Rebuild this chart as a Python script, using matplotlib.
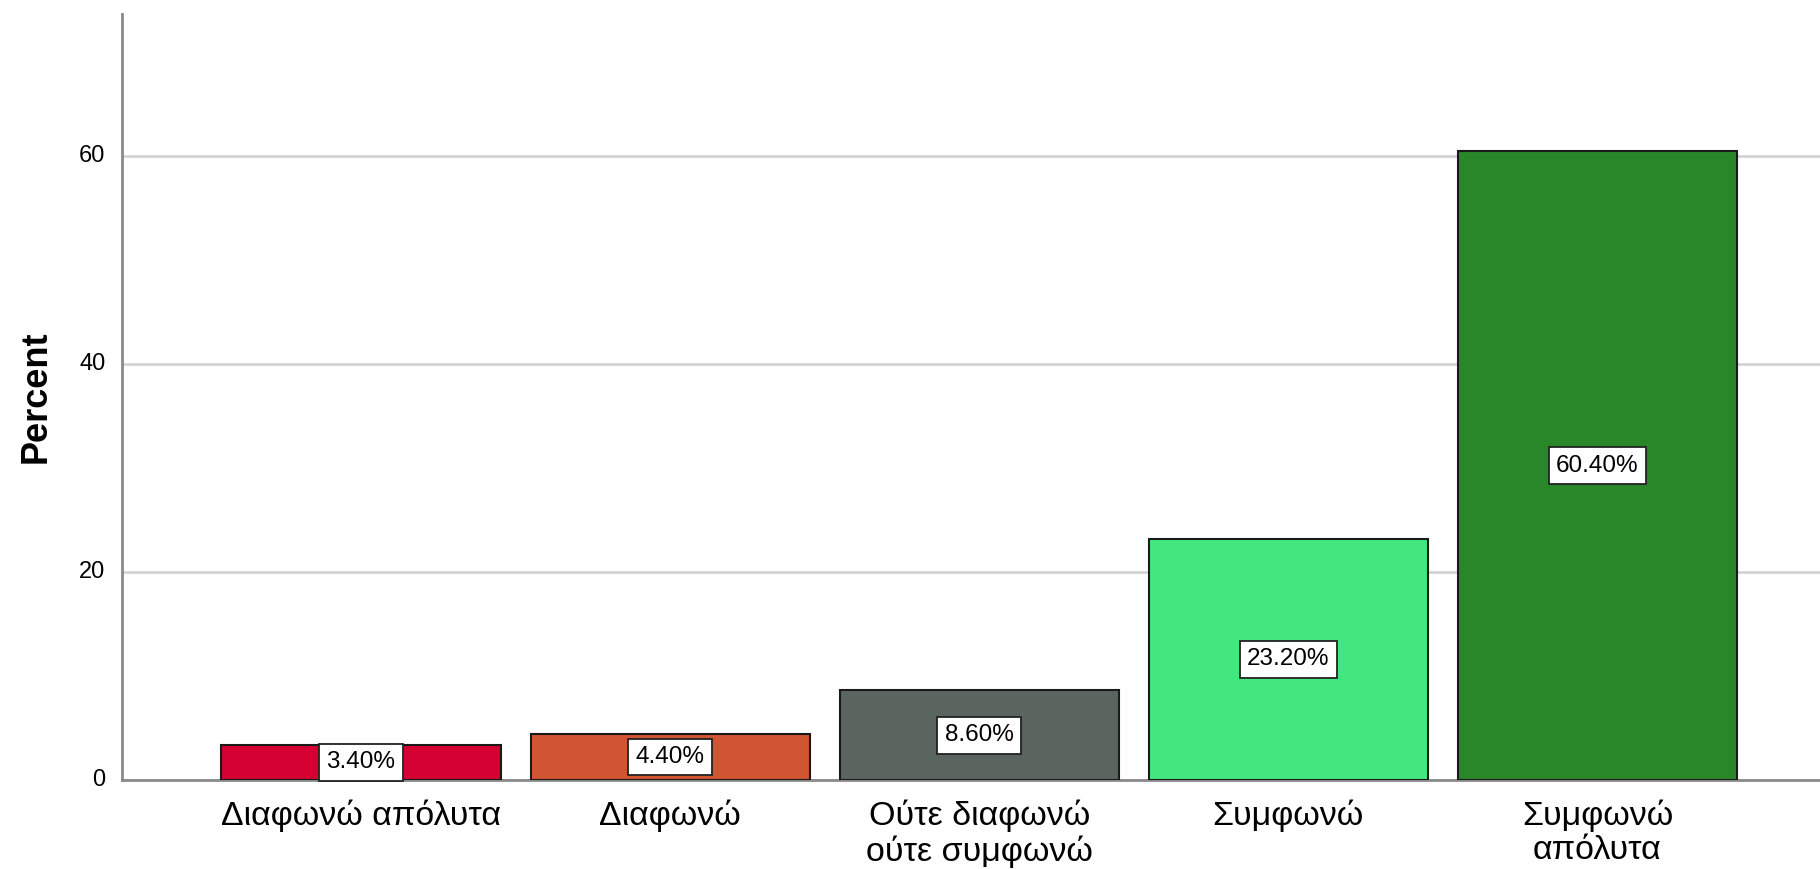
import numpy as np
import matplotlib
matplotlib.use("Agg")
import matplotlib.pyplot as plt

categories = ["Διαφωνώ απόλυτα", "Διαφωνώ", "Ούτε διαφωνώ\nούτε συμφωνώ",
              "Συμφωνώ", "Συμφωνώ\nαπόλυτα"]
percent = [3.4, 4.4, 8.6, 23.2, 60.4]
bar_colors = ["#D50032", "#D25533", "#5B6560", "#42E87F", "#29872A"]
y_ticks = [0, 20, 40, 60]

plt.rcParams["font.family"] = ["Liberation Sans", "DejaVu Sans"]

fig = plt.figure(figsize=(18.2, 8.69), dpi=100)
ax = fig.add_axes([122 / 1820, 1 - 780 / 869, 1 - 122 / 1820, (780 - 14) / 869])

x = np.arange(len(categories))
ax.bar(x, percent, width=0.903, color=bar_colors, edgecolor="#1a1a1a",
       linewidth=1.5, zorder=3)

# value boxes sit at the middle of each bar
for xi, v in zip(x, percent):
    ax.text(xi, v / 2, "%.2f%%" % v, ha="center", va="center", fontsize=17.5,
            zorder=4,
            bbox=dict(boxstyle="square,pad=0.3", fc="white", ec="#222222", lw=1.3))

ax.set_xlim(-0.773, 4.72)
ax.set_ylim(0, 73.6)
ax.set_yticks(y_ticks)
ax.set_yticklabels([str(t) for t in y_ticks], fontsize=17, va="top")
ax.set_xticks(x)
ax.set_xticklabels(categories, fontsize=24.5, linespacing=1.12)
ax.tick_params(axis="both", length=0)
ax.tick_params(axis="y", pad=12)
ax.tick_params(axis="x", pad=14)
for lab in ax.get_yticklabels():
    lab.set_verticalalignment("center")

ax.yaxis.grid(True, color="#D0D0D0", lw=1.8, zorder=0)
ax.set_axisbelow(True)
for s in ["top", "right"]:
    ax.spines[s].set_visible(False)
for s in ["left", "bottom"]:
    ax.spines[s].set_color("#8a8a8a")
    ax.spines[s].set_linewidth(2)

ax.set_ylabel("Percent", fontsize=26, fontweight="bold", labelpad=18)

fig.savefig("out.png", dpi=100)
